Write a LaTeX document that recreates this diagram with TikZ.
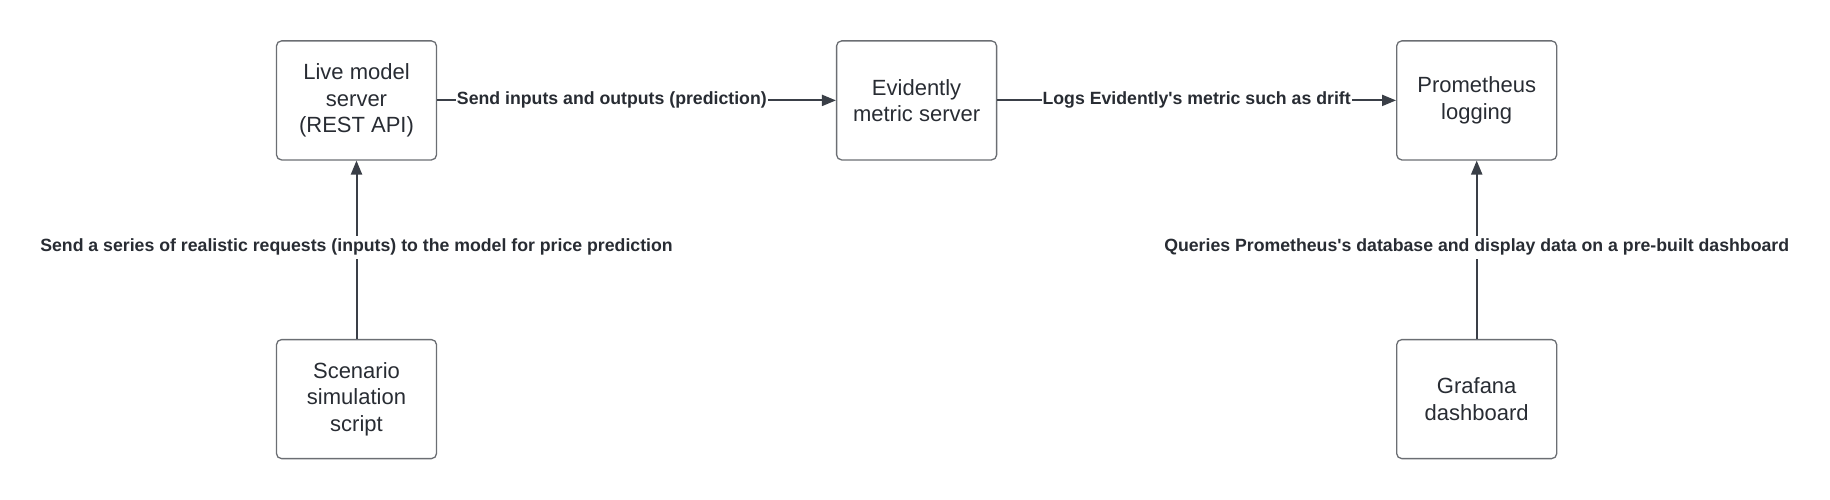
\documentclass[tikz,border=0pt]{standalone}
\usepackage{fontspec}
\setmainfont{Liberation Sans}
\usepackage{xcolor}
\usetikzlibrary{positioning}
\usetikzlibrary{arrows.meta}

\definecolor{boxline}{HTML}{6B6E73}
\definecolor{linkline}{HTML}{3A3F47}
\definecolor{inktext}{HTML}{282C33}

\tikzset{
    service/.style={draw=boxline, line width=1.3pt, rounded corners=5pt,
        minimum width=160pt, minimum height=119pt, align=center,
        text=inktext, font=\fontsize{22}{26.3}\selectfont},
    link/.style={draw=linkline, line width=2pt,
        -{Triangle[length=14pt,width=11pt]}},
    linklabel/.style={fill=white, text=inktext, inner xsep=1pt, inner ysep=3pt,
        font=\bfseries\fontsize{17.7}{21}\selectfont},
}

\begin{document}
\begin{tikzpicture}[x=1pt,y=1pt]
    \useasboundingbox (0,0) rectangle (1830,499);

    \node[service] (live) at (356.5,398.6) {Live model\\server\\(REST API)};
    \node[service, right=398.8pt of live] (evid) {Evidently\\metric server};
    \node[service, right=398.8pt of evid] (prom) {Prometheus\\logging};

    \node[service, below=178.4pt of live] (scen) {Scenario\\simulation\\script};
    \node[service, below=178.4pt of prom] (graf) {Grafana\\dashboard};

    \draw[link] (live) -- node[linklabel, pos=0.438] {Send inputs and outputs (prediction)} (evid);
    \draw[link] (evid) -- node[linklabel] {Logs Evidently\textquotesingle s metric such as drift} (prom);

    \draw[link] (scen) -- node[linklabel, pos=0.514] {Send a series of realistic requests (inputs) to the model for price prediction} (live);
    \draw[link] (graf) -- node[linklabel, pos=0.514] {Queries Prometheus\textquotesingle s database and display data on a pre-built dashboard} (prom);
\end{tikzpicture}
\end{document}
